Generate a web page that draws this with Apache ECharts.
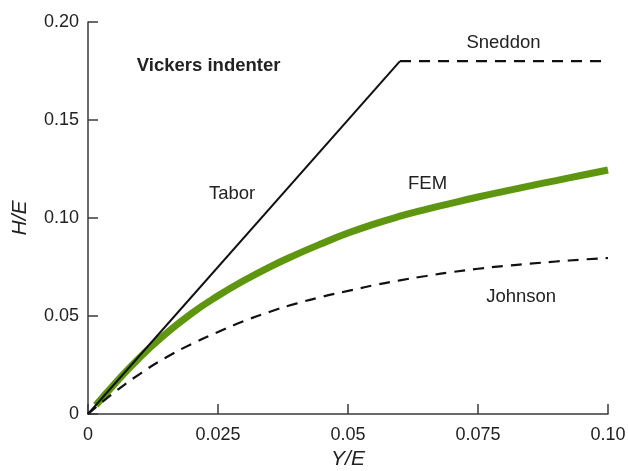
<!DOCTYPE html>
<html>
<head>
<meta charset="utf-8">
<script src="https://cdn.jsdelivr.net/npm/echarts@6/dist/echarts.min.js"></script>
<style>html,body{margin:0;padding:0;background:#fff}#c{width:628px;height:471px}</style>
</head>
<body>
<div id="c"></div>
<script>
// ---- data ----
const xTicks = [0, 0.025, 0.05, 0.075, 0.10];
const xTickLabels = ['0', '0.025', '0.05', '0.075', '0.10'];
const yTicks = [0, 0.05, 0.10, 0.15, 0.20];
const yTickLabels = ['0', '0.05', '0.10', '0.15', '0.20'];

const femX = [0.0015, 0.005, 0.01, 0.015, 0.02, 0.025, 0.03, 0.035, 0.04, 0.045, 0.05, 0.055, 0.06, 0.065, 0.07, 0.075, 0.08, 0.085, 0.09, 0.095, 0.1];
const femY = [0.0045, 0.0150, 0.0290, 0.0410, 0.0515, 0.0603, 0.0681, 0.0751, 0.0813, 0.0870, 0.0923, 0.0969, 0.1009, 0.1044, 0.1076, 0.1107, 0.1136, 0.1164, 0.1191, 0.1218, 0.1245];

const johnsonX = [0, 0.005, 0.01, 0.015, 0.02, 0.025, 0.03, 0.035, 0.04, 0.045, 0.05, 0.055, 0.06, 0.065, 0.07, 0.075, 0.08, 0.085, 0.09, 0.095, 0.1];
const johnsonY = [0, 0.0109, 0.0205, 0.0288, 0.0358, 0.0418, 0.0474, 0.0522, 0.0563, 0.0598, 0.0628, 0.0657, 0.0682, 0.0704, 0.0724, 0.0741, 0.0755, 0.0767, 0.0778, 0.0788, 0.0796];

const taborX = [0, 0.06];
const taborY = [0, 0.18];

const sneddonX = [0.06, 0.1];
const sneddonY = [0.18, 0.18];

const labelTexts = ['Vickers indenter', 'Tabor', 'Sneddon', 'FEM', 'Johnson'];
const labelAnchors = [[0.0232, 0.1775], [0.0277, 0.1125], [0.0799, 0.1895], [0.0653, 0.1175], [0.0833, 0.0595]];

const zip = (xs, ys) => xs.map((x, i) => [x, ys[i]]);

// ---- chart ----
const FONT = '"Liberation Sans", Arial, Helvetica, sans-serif';
const chart = echarts.init(document.getElementById('c'), null, {renderer: 'canvas'});
const axisCol = '#3a3a3a';
const fmt = (ticks, labels) => (v) => {
  const i = ticks.findIndex(t => Math.abs(t - v) < 1e-9);
  return i >= 0 ? labels[i] : '';
};
const option = {
  animation: false,
  backgroundColor: '#fff',
  grid: {left: 88, right: 20, top: 22, bottom: 57, containLabel: false, outerBoundsMode: 'none'},
  xAxis: {
    type: 'value', min: 0, max: 0.1, interval: 0.025,
    name: 'Y/E', nameLocation: 'middle', nameGap: 33,
    nameTextStyle: {fontFamily: FONT, fontSize: 21, fontStyle: 'italic', color: '#222'},
    axisLine: {show: true, lineStyle: {color: axisCol, width: 1.5}},
    axisTick: {show: true, inside: true, length: 10, lineStyle: {color: axisCol, width: 1.5}},
    axisLabel: {fontFamily: FONT, fontSize: 18, color: '#222', margin: 12, formatter: fmt(xTicks, xTickLabels)},
    splitLine: {show: false}
  },
  yAxis: {
    type: 'value', min: 0, max: 0.2, interval: 0.05,
    name: 'H/E', nameLocation: 'middle', nameGap: 57, nameRotate: 90,
    nameTextStyle: {fontFamily: FONT, fontSize: 21, fontStyle: 'italic', color: '#222'},
    axisLine: {show: true, lineStyle: {color: axisCol, width: 1.5}},
    axisTick: {show: true, inside: true, length: 10, lineStyle: {color: axisCol, width: 1.5}},
    axisLabel: {fontFamily: FONT, fontSize: 18, color: '#222', margin: 9, formatter: fmt(yTicks, yTickLabels)},
    splitLine: {show: false}
  },
  series: [
    {name: 'FEM', type: 'line', data: zip(femX, femY), smooth: 0.5, symbol: 'none',
     lineStyle: {color: '#5e960f', width: 7, cap: 'butt'}, z: 2},
    {name: 'Johnson', type: 'line', data: zip(johnsonX, johnsonY), smooth: 0.5, symbol: 'none',
     lineStyle: {color: '#111', width: 2.2, type: [11, 8]}, z: 3},
    {name: 'Tabor', type: 'line', data: zip(taborX, taborY), symbol: 'none',
     lineStyle: {color: '#111', width: 2}, z: 3},
    {name: 'Sneddon', type: 'line', data: zip(sneddonX, sneddonY), symbol: 'none',
     lineStyle: {color: '#111', width: 2.2, type: [11, 8]}, z: 3}
  ]
};
chart.setOption(option);

const graphics = labelTexts.map((t, i) => {
  const p = chart.convertToPixel({gridIndex: 0}, labelAnchors[i]);
  return {
    type: 'text', x: p[0], y: p[1], z: 10,
    style: {text: t, fontFamily: FONT, fontSize: 18.5, fontWeight: i === 0 ? 'bold' : 'normal',
            fill: '#222', align: 'center', verticalAlign: 'middle'}
  };
});
chart.setOption({graphic: graphics});
</script>
</body>
</html>
